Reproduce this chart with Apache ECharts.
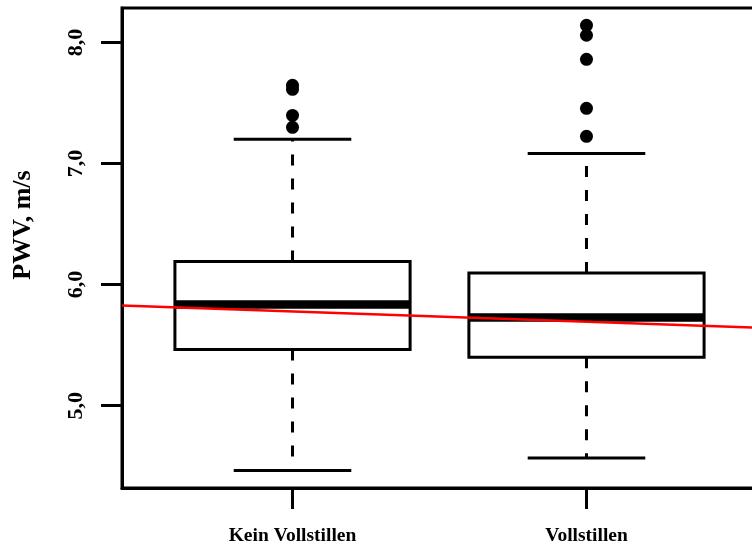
<!DOCTYPE html>
<html>
<head>
<meta charset="utf-8">
<script src="https://cdn.jsdelivr.net/npm/echarts@6/dist/echarts.min.js"></script>
<style>
  html, body { margin: 0; padding: 0; background: #fff; }
  #chart { width: 752px; height: 546px; }
</style>
</head>
<body>
<div id="chart"></div>
<script>
// Categories and box statistics
const categories = ['Kein Vollstillen', 'Vollstillen'];
const lowerWhisker = [4.465, 4.568];
const q1 = [5.464, 5.400];
const median = [5.836, 5.729];
const q3 = [6.192, 6.095];
const upperWhisker = [7.200, 7.084];
const outliers1 = [7.646, 7.613, 7.398, 7.299];
const outliers2 = [8.142, 8.060, 7.861, 7.456, 7.225];
const yTicks = [5, 6, 7, 8];
// regression line endpoints (x in category units, y in m/s)
const trendX = [0.42, 2.58];
const trendY = [5.828, 5.644];

const FONT = 'Liberation Serif';

const boxData = categories.map((c, i) => [i + 1, lowerWhisker[i], q1[i], median[i], q3[i], upperWhisker[i]]);
const outlierData = [];
outliers1.forEach(v => outlierData.push([1, v]));
outliers2.forEach(v => outlierData.push([2, v]));
const trendData = trendX.map((x, i) => [x, trendY[i]]);

const BOX_W = 0.8, STAPLE_W = 0.4;

function renderBox(params, api) {
  const x = api.value(0);
  const lo = api.value(1), a = api.value(2), m = api.value(3), b = api.value(4), hi = api.value(5);
  const pL = api.coord([x - BOX_W / 2, b]);
  const pR = api.coord([x + BOX_W / 2, a]);
  const sL = api.coord([x - STAPLE_W / 2, hi])[0];
  const sR = api.coord([x + STAPLE_W / 2, hi])[0];
  const cx = api.coord([x, m])[0];
  const yHi = api.coord([x, hi])[1];
  const yLo = api.coord([x, lo])[1];
  const yM = api.coord([x, m])[1];
  const yA = pR[1], yB = pL[1];
  const stroke = { stroke: '#000', lineWidth: 3, fill: null };
  return {
    type: 'group',
    children: [
      { type: 'line', shape: { x1: cx, y1: yB, x2: cx, y2: yHi }, style: Object.assign({}, stroke, { lineDash: [11, 13] }) },
      { type: 'line', shape: { x1: cx, y1: yA, x2: cx, y2: yLo }, style: Object.assign({}, stroke, { lineDash: [11, 13] }) },
      { type: 'line', shape: { x1: sL, y1: yHi, x2: sR, y2: yHi }, style: stroke },
      { type: 'line', shape: { x1: sL, y1: yLo, x2: sR, y2: yLo }, style: stroke },
      { type: 'rect', shape: { x: pL[0], y: yB, width: pR[0] - pL[0], height: yA - yB }, style: { stroke: '#000', lineWidth: 3, fill: '#fff' } },
      { type: 'line', shape: { x1: pL[0], y1: yM, x2: pR[0], y2: yM }, style: { stroke: '#000', lineWidth: 8.5 } }
    ]
  };
}

const chart = echarts.init(document.getElementById('chart'), null, { renderer: 'canvas' });
chart.setOption({
  animation: false,
  backgroundColor: '#fff',
  grid: { left: 122, top: 8, width: 635, height: 480, outerBoundsMode: 'none', containLabel: false, show: true, borderColor: '#000', borderWidth: 3, backgroundColor: 'transparent' },
  xAxis: {
    type: 'value', min: 0.42, max: 2.58,
    splitLine: { show: false },
    axisLine: { show: true, lineStyle: { color: '#000', width: 3 } },
    axisTick: { show: true, customValues: [1, 2], length: 21, lineStyle: { color: '#000', width: 3 } },
    axisLabel: {
      customValues: [1, 2], margin: 38,
      formatter: v => categories[Math.round(v) - 1] || '',
      color: '#000', fontFamily: FONT, fontWeight: 'bold', fontSize: 19.5
    }
  },
  yAxis: {
    type: 'value', min: 4.32, max: 8.285,
    splitLine: { show: false },
    axisLine: { show: true, lineStyle: { color: '#000', width: 3 } },
    axisTick: { show: true, customValues: yTicks, length: 21, lineStyle: { color: '#000', width: 3 } },
    axisLabel: {
      customValues: yTicks, rotate: 90, margin: 35,
      formatter: v => v.toFixed(1).replace('.', ','),
      color: '#000', fontFamily: FONT, fontWeight: 'bold', fontSize: 22
    },
    name: 'PWV, m/s', nameLocation: 'middle', nameRotate: 90, nameGap: 86,
    nameTextStyle: { color: '#000', fontFamily: FONT, fontWeight: 'bold', fontSize: 26, padding: [0, 0, 0, 46] }
  },
  series: [
    { type: 'custom', renderItem: renderBox, data: boxData, encode: { x: 0, y: [1, 2, 3, 4, 5] }, z: 2, clip: false },
    { type: 'scatter', data: outlierData, symbol: 'circle', symbolSize: 13, itemStyle: { color: '#000', opacity: 1 }, z: 3 },
    { type: 'line', data: trendData, symbol: 'none', lineStyle: { color: '#ff0000', width: 2.5 }, z: 4 }
  ]
});
</script>
</body>
</html>
